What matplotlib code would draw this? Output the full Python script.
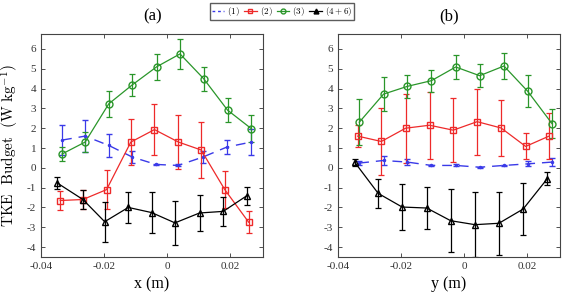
import numpy as np
import matplotlib.pyplot as plt
from matplotlib.lines import Line2D

plt.rcParams['font.family'] = ['Liberation Serif', 'DejaVu Serif']
plt.rcParams['mathtext.fontset'] = 'cm'

# panel (a): streamwise profile
xa_1 = [-0.0333, -0.0260, -0.0185, -0.0110, -0.0035, 0.0035, 0.0113, 0.0190, 0.0267]
a_1 = [1.40, 1.60, 1.13, 0.54, 0.17, 0.12, 0.54, 1.05, 1.30]
a_1_err = [0.75, 0.82, 0.58, 0.30, 0.04, 0.05, 0.30, 0.36, 0.65]

xa_2 = [-0.0339, -0.0267, -0.0192, -0.0115, -0.0040, 0.0036, 0.0108, 0.0183, 0.0259]
a_2 = [-1.65, -1.60, -1.10, 1.30, 1.93, 1.30, 0.90, -1.10, -2.75]
a_2_err = [0.48, 0.50, 1.00, 1.15, 1.27, 1.37, 1.42, 0.95, 0.55]

xa_3 = [-0.0333, -0.0260, -0.0185, -0.0111, -0.0033, 0.0041, 0.0116, 0.0192, 0.0267]
a_3 = [0.70, 1.30, 3.23, 4.18, 5.10, 5.75, 4.50, 2.91, 1.98]
a_3_err = [0.35, 0.50, 0.65, 0.55, 0.65, 0.75, 0.60, 0.60, 0.68]

xa_4 = [-0.0350, -0.0267, -0.0198, -0.0123, -0.0049, 0.0025, 0.0103, 0.0178, 0.0252]
a_4 = [-0.75, -1.60, -2.72, -2.00, -2.26, -2.78, -2.28, -2.20, -1.42]
a_4_err = [0.30, 0.50, 1.00, 0.77, 1.05, 1.12, 0.92, 0.75, 0.47]

# panel (b): spanwise profile
xb_1 = [-0.0332, -0.0255, -0.0180, -0.0103, -0.0026, 0.0050, 0.0127, 0.0202, 0.0280]
b_1 = [0.24, 0.37, 0.29, 0.12, 0.12, 0.03, 0.12, 0.20, 0.29]
b_1_err = [0.11, 0.23, 0.17, 0.04, 0.05, 0.02, 0.04, 0.13, 0.20]

xb_2 = [-0.0337, -0.0262, -0.0185, -0.0109, -0.0034, 0.0042, 0.0118, 0.0196, 0.0270]
b_2 = [1.60, 1.33, 2.00, 2.15, 1.90, 2.33, 2.01, 1.08, 1.60]
b_2_err = [0.54, 1.70, 1.75, 1.70, 1.60, 1.67, 1.42, 0.66, 1.18]

xb_3 = [-0.0332, -0.0255, -0.0180, -0.0103, -0.0026, 0.0050, 0.0127, 0.0202, 0.0280]
b_3 = [2.30, 3.72, 4.11, 4.40, 5.09, 4.65, 5.14, 3.87, 2.22]
b_3_err = [1.16, 0.86, 0.58, 0.56, 0.60, 0.58, 0.68, 0.81, 0.74]

xb_4 = [-0.0346, -0.0272, -0.0196, -0.0118, -0.0042, 0.0035, 0.0111, 0.0188, 0.0264]
b_4 = [0.27, -1.29, -1.98, -2.03, -2.67, -2.87, -2.80, -2.08, -0.56]
b_4_err = [0.18, 0.73, 1.14, 1.05, 1.60, 1.63, 1.58, 1.30, 0.33]

labels = ['$(1)$', '$(2)$', '$(3)$', '$(4+6)$']
blue, red, green = '#3a3ae8', '#ee2a2a', '#2a962a'


def panel(ax, series, title, xlabel):
    (x1, y1, e1), (x2, y2, e2), (x3, y3, e3), (x4, y4, e4) = series
    kw = dict(capsize=2, elinewidth=0.9, capthick=0.9, markersize=5,
              markerfacecolor='none', lw=0.9)
    ax.errorbar(x1, y1, yerr=e1, color=blue, ls=(0, (7, 5)), marker='.',
                markersize=3, capsize=2, elinewidth=0.9, lw=1.0)
    ax.errorbar(x2, y2, yerr=e2, color=red, marker='s', **kw)
    ax.errorbar(x3, y3, yerr=e3, color=green, marker='o', **kw)
    ax.errorbar(x4, y4, yerr=e4, color='black', marker='^', **kw)
    ax.set_xlim(-0.04, 0.0305)
    ax.set_ylim(-4.5, 6.75)
    ax.set_xticks([-0.04, -0.02, 0, 0.02])
    ax.set_xticklabels(['-0.04', '-0.02', '0', '0.02'])
    ax.set_yticks(range(-4, 7))
    ax.set_yticklabels([str(v) for v in range(-4, 7)])
    ax.tick_params(direction='in', top=True, right=True, labelsize=8,
                   length=3, width=0.6, colors='#333333', labelcolor='#333333')
    for s in ax.spines.values():
        s.set_linewidth(0.8)
        s.set_color('#444444')
    ax.set_title(title, fontsize=12, pad=10)
    ax.set_xlabel(xlabel, fontsize=11.5, labelpad=4)


fig = plt.figure(figsize=(5.64, 2.94), dpi=100)
ax1 = fig.add_axes([0.0727, 0.126, 0.394, 0.758])
ax2 = fig.add_axes([0.599, 0.126, 0.394, 0.758])

panel(ax1, [(xa_1, a_1, a_1_err), (xa_2, a_2, a_2_err), (xa_3, a_3, a_3_err),
            (xa_4, a_4, a_4_err)], '(a)', 'x (m)')
panel(ax2, [(xb_1, b_1, b_1_err), (xb_2, b_2, b_2_err), (xb_3, b_3, b_3_err),
            (xb_4, b_4, b_4_err)], '(b)', 'y (m)')

ax1.set_ylabel(r'$\mathrm{TKE\ \ Budget\ \ (W\ kg^{-1})}$', fontsize=11, labelpad=4)

handles = [
    Line2D([], [], color=blue, ls=(0, (2, 2)), lw=1.0),
    Line2D([], [], color=red, marker='s', markersize=3.5, markerfacecolor='none', lw=0.9),
    Line2D([], [], color=green, marker='o', markersize=3.5, markerfacecolor='none', lw=0.9),
    Line2D([], [], color='black', marker='^', markersize=3.5, lw=0.9),
]
fig.legend(handles, labels, loc='upper center', bbox_to_anchor=(0.5, 0.995), ncol=4,
           fontsize=6.5, frameon=True, fancybox=False, edgecolor='#333333',
           handlelength=1.4, handletextpad=0.35, columnspacing=0.45,
           borderpad=0.2, borderaxespad=0.2)

fig.savefig('out.png', dpi=100)
